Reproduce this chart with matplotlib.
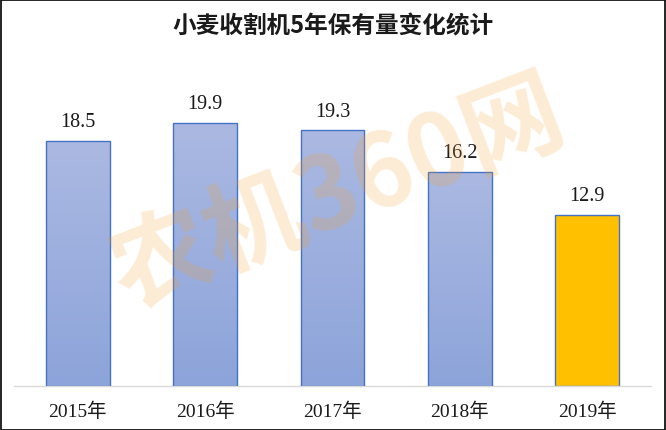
import matplotlib
matplotlib.use("Agg")
import matplotlib.pyplot as plt
import numpy as np
from matplotlib.colors import LinearSegmentedColormap

categories = ["2015年", "2016年", "2017年", "2018年", "2019年"]
values = [18.5, 19.9, 19.3, 16.2, 12.9]
title = "小麦收割机5年保有量变化统计"
watermark = "农机360网"

plt.rcParams['font.family'] = ['Liberation Serif', 'Noto Sans CJK SC']

W, H = 666, 431
fig = plt.figure(figsize=(W/100, H/100), dpi=100)
fig.patch.set_facecolor('white')

ax = fig.add_axes([14/W, (H-387)/H, (651-14)/W, (387-56)/H])
ax.set_facecolor('none')

x = np.arange(len(categories))
colors = ['#a5b4df'] * (len(values) - 1) + ['#ffc000']
bars = ax.bar(x, values, width=0.5, color=colors, edgecolor='#4472c4', linewidth=1.0, zorder=2)

ax.set_xlim(-0.5, len(categories) - 0.5)
ax.set_ylim(0, 25)

# gradient fill for the blue bars
cmap = LinearSegmentedColormap.from_list('g', ['#8da4da', '#abb9e2'])
grad = np.linspace(0, 1, 256).reshape(-1, 1)
for b, c in zip(bars, colors):
    if c == '#ffc000':
        continue
    x0, y0 = b.get_x(), b.get_y()
    w, h = b.get_width(), b.get_height()
    im = ax.imshow(grad, extent=[x0, x0 + w, y0, y0 + h], origin='lower', cmap=cmap,
                   aspect='auto', zorder=2.5)
    im.set_clip_path(b)
    b.set_facecolor('none')
    b.set_zorder(3)

for b, v in zip(bars, values):
    ax.annotate(f"{v}", (b.get_x() + b.get_width()/2, v), xytext=(0, 7),
                textcoords='offset points', ha='center', va='bottom',
                fontsize=14.5, color='#1a1a1a')

ax.set_xticks(x)
ax.set_xticklabels(categories, fontsize=14, color='#1a1a1a')
ax.tick_params(axis='x', length=0, pad=11)
ax.set_yticks([])
for s in ['top', 'right', 'left']:
    ax.spines[s].set_visible(False)
ax.spines['bottom'].set_color('#d9d9d9')
ax.spines['bottom'].set_linewidth(1.0)

fig.text(0.5, 1 - 26/H, title, ha='center', va='center', fontsize=17,
         fontweight='bold', family=['Noto Sans CJK SC', 'DejaVu Sans'], color='#1a1a1a')

fig.text(338/W, 1 - 195/H, watermark, ha='center', va='center', fontsize=72,
         fontweight='bold', rotation=21, color='#f6a02a', alpha=0.2, zorder=0,
         family=['Noto Sans CJK SC', 'DejaVu Sans'])

# outer frame
fig.add_artist(plt.Rectangle((0.5/W, 0.5/H), 1 - 1.5/W, 1 - 1.5/H, transform=fig.transFigure,
                             fill=False, edgecolor='black', linewidth=1.2))

fig.savefig('out.png', dpi=100)
